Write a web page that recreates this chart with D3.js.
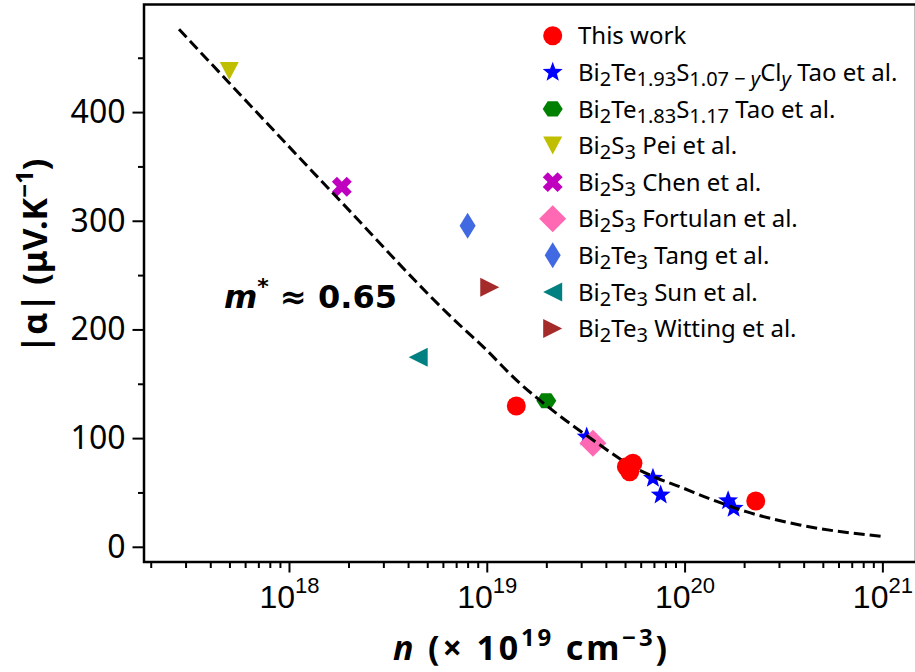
<!DOCTYPE html>
<html>
<head>
<meta charset="utf-8">
<script src="https://cdn.jsdelivr.net/npm/d3@7"></script>
<style>
  body { margin: 0; background: #fff; }
  svg { font-family: "Noto Sans", sans-serif; }
</style>
</head>
<body>
<div id="chart"></div>
<script>
// ---------------- DATA ----------------
// carrier concentration n (cm^-3) and |alpha| (uV/K)
var thisWorkN = [1.41e19, 5.08e19, 5.28e19, 5.48e19, 2.29e20];
var thisWorkAlpha = [129.6, 73.7, 69.1, 76.8, 42.1];

var taoClN = [3.2e19, 6.92e19, 7.57e19, 1.66e20, 1.77e20];
var taoClAlpha = [101, 63.0, 47.7, 42.4, 35.4];

var taoN = [2.0e19];      var taoAlpha = [134.4];
var peiN = [4.99e17];     var peiAlpha = [437.8];
var chenN = [1.85e18];    var chenAlpha = [331.3];
var fortulanN = [3.44e19]; var fortulanAlpha = [95.2];
var tangN = [8.0e18];     var tangAlpha = [295.5];
var sunN = [4.5e18];      var sunAlpha = [174.4];
var wittingN = [1.035e19]; var wittingAlpha = [238.8];

// Pisarenko curve for m* ~ 0.65
var curveN = [2.78e17, 4.92e17, 1.67e18, 7.59e18, 9.20e18, 1.47e19, 2.25e19, 3.44e19,
              5.48e19, 7.19e19, 9.44e19, 1.39e20, 2.05e20, 3.82e20, 1.03e21];
var curveAlpha = [476.2, 428.0, 325.3, 201.1, 187.2, 150.4, 122.8, 98.3,
                  73.7, 63.5, 55.3, 43.1, 32.3, 20.1, 9.3];

var xMajorTicks = [1e18, 1e19, 1e20, 1e21];
var xTickExponents = ["18", "19", "20", "21"];
var yMajorTicks = [0, 100, 200, 300, 400];
var yMinorTicks = [50, 150, 250, 350, 450];

// legend labels: [text, "sub"|"isub"|null]
var legendLabels = [
  [["This work", null]],
  [["Bi", null], ["2", "sub"], ["Te", null], ["1.93", "sub"], ["S", null], ["1.07 \u2212 ", "sub"], ["y", "isub"], ["Cl", null], ["y", "isub"], [" Tao et al.", null]],
  [["Bi", null], ["2", "sub"], ["Te", null], ["1.83", "sub"], ["S", null], ["1.17", "sub"], [" Tao et al.", null]],
  [["Bi", null], ["2", "sub"], ["S", null], ["3", "sub"], [" Pei et al.", null]],
  [["Bi", null], ["2", "sub"], ["S", null], ["3", "sub"], [" Chen et al.", null]],
  [["Bi", null], ["2", "sub"], ["S", null], ["3", "sub"], [" Fortulan et al.", null]],
  [["Bi", null], ["2", "sub"], ["Te", null], ["3", "sub"], [" Tang et al.", null]],
  [["Bi", null], ["2", "sub"], ["Te", null], ["3", "sub"], [" Sun et al.", null]],
  [["Bi", null], ["2", "sub"], ["Te", null], ["3", "sub"], [" Witting et al.", null]]
];

// ---------------- CANVAS ----------------
var svgWidth = 915, svgHeight = 672;
var plot = {left: 144, right: 916, top: 4.5, bottom: 562};

var svg = d3.select("#chart").append("svg")
  .attr("width", svgWidth)
  .attr("height", svgHeight);

// scales
var x = d3.scaleLog()
  .domain([Math.pow(10, 17.267), Math.pow(10, 21.17)])
  .range([plot.left, plot.right]);

var y = d3.scaleLinear()
  .domain([-14, 499])
  .range([plot.bottom, plot.top]);

// ---------------- AXES ----------------
var xMinor = [];
for (var e = 17; e <= 21; e++) {
  for (var m = 2; m <= 9; m++) {
    var v = m * Math.pow(10, e);
    if (v > x.domain()[0] && v < x.domain()[1]) xMinor.push(v);
  }
}

var xAxisMinor = svg.append("g")
  .attr("transform", `translate(0, ${plot.bottom})`)
  .call(d3.axisBottom(x).tickValues(xMinor).tickSize(6).tickFormat(""));

var xAxis = svg.append("g")
  .attr("transform", `translate(0, ${plot.bottom})`)
  .call(d3.axisBottom(x).tickValues(xMajorTicks).tickSize(10.5).tickPadding(10).tickFormat(""));

// tick labels 10^k
xAxis.selectAll(".tick text").each(function(d, i) {
  var t = d3.select(this)
    .attr("fill", "#000")
    .attr("font-size", 32)
    .attr("dy", null)
    .attr("y", 46);
  t.append("tspan").text("10");
  t.append("tspan").attr("font-size", 22).attr("dy", -15).text(xTickExponents[i]);
});

var yAxisMinor = svg.append("g")
  .attr("transform", `translate(${plot.left}, 0)`)
  .call(d3.axisLeft(y).tickValues(yMinorTicks).tickSize(6).tickFormat(""));

var yAxis = svg.append("g")
  .attr("transform", `translate(${plot.left}, 0)`)
  .call(d3.axisLeft(y).tickValues(yMajorTicks).tickSize(11.5).tickPadding(7));

yAxis.selectAll(".tick text")
  .attr("fill", "#000")
  .attr("font-size", 32)
  .attr("font-family", "Noto Sans");

[xAxis, xAxisMinor, yAxis, yAxisMinor].forEach(function(g) {
  g.select(".domain").remove();
  g.selectAll(".tick line").attr("stroke", "#000").attr("stroke-width", 2);
});

// frame
svg.append("rect")
  .attr("x", plot.left)
  .attr("y", plot.top)
  .attr("width", plot.right - plot.left)
  .attr("height", plot.bottom - plot.top)
  .attr("fill", "none")
  .attr("stroke", "#000")
  .attr("stroke-width", 2.5);

// ---------------- LABELS ----------------
var yLabel = svg.append("text")
  .attr("transform", "translate(47, 256) rotate(-90)")
  .attr("text-anchor", "middle")
  .attr("font-size", 34)
  .attr("font-weight", "bold");
yLabel.append("tspan").text("|\u03b1| (\u03bcV.K");
yLabel.append("tspan").attr("font-size", 24).attr("dy", -14).text("\u22121");
yLabel.append("tspan").attr("dy", 14).text(")");

var xLabel = svg.append("text")
  .attr("x", 393)
  .attr("y", 660)
  .attr("textLength", 274)
  .attr("lengthAdjust", "spacing")
  .attr("font-size", 34)
  .attr("font-weight", "bold");
xLabel.append("tspan").attr("font-style", "italic").text("n");
xLabel.append("tspan").text(" (\u00d7 10");
xLabel.append("tspan").attr("font-size", 24).attr("dy", -14).text("19");
xLabel.append("tspan").attr("dy", 14).text(" cm");
xLabel.append("tspan").attr("font-size", 24).attr("dy", -14).text("\u22123");
xLabel.append("tspan").attr("dy", 14).text(")");

var note = svg.append("text")
  .attr("x", 224)
  .attr("y", 308)
  .attr("font-family", "DejaVu Sans")
  .attr("font-size", 32)
  .attr("font-weight", "bold");
note.append("tspan").attr("font-style", "italic").text("m");
note.append("tspan").attr("font-size", 22).attr("dy", -14).text("*");
note.append("tspan").attr("dy", 14).text(" \u2248 0.65");

// ---------------- MARKER SHAPES ----------------
function polyPath(pts) {
  return "M" + pts.map(function(p) { return p[0].toFixed(2) + "," + p[1].toFixed(2); }).join("L") + "Z";
}
function circlePath(r) {
  return `M${-r},0A${r},${r} 0 1,0 ${r},0A${r},${r} 0 1,0 ${-r},0Z`;
}
function starPath(r) {
  var pts = [], ri = r * 0.42;
  for (var k = 0; k < 10; k++) {
    var a = -Math.PI / 2 + k * Math.PI / 5, rr = k % 2 ? ri : r;
    pts.push([rr * Math.cos(a), rr * Math.sin(a)]);
  }
  return polyPath(pts);
}
function hexPath(r) {
  var pts = [];
  for (var k = 0; k < 6; k++) {
    var a = k * Math.PI / 3;
    pts.push([r * Math.cos(a), r * 0.87 * Math.sin(a)]);
  }
  return polyPath(pts);
}
function triDown(w, h) { return polyPath([[-w / 2, -h / 2], [w / 2, -h / 2], [0, h / 2]]); }
function triLeft(w, h) { return polyPath([[-w / 2, 0], [w / 2, -h / 2], [w / 2, h / 2]]); }
function triRight(w, h) { return polyPath([[w / 2, 0], [-w / 2, -h / 2], [-w / 2, h / 2]]); }
function diamond(w, h) { return polyPath([[0, -h / 2], [w / 2, 0], [0, h / 2], [-w / 2, 0]]); }
function xPath(s) {
  // filled X (plus rotated 45 degrees)
  var a = s / 2, b = s * 0.17;
  var plus = [[-b, -a], [b, -a], [b, -b], [a, -b], [a, b], [b, b], [b, a], [-b, a], [-b, b], [-a, b], [-a, -b], [-b, -b]];
  var c = Math.SQRT1_2;
  return polyPath(plus.map(function(p) { return [(p[0] - p[1]) * c, (p[0] + p[1]) * c]; }));
}

var series = [
  {n: taoClN, a: taoClAlpha, color: "#0000ff", path: starPath(10.5)},
  {n: taoN, a: taoAlpha, color: "#008000", path: hexPath(10)},
  {n: peiN, a: peiAlpha, color: "#bfbf00", path: triDown(19, 18)},
  {n: chenN, a: chenAlpha, color: "#bf00bf", path: xPath(21)},
  {n: fortulanN, a: fortulanAlpha, color: "#ff69b4", path: diamond(27, 27)},
  {n: tangN, a: tangAlpha, color: "#4169e1", path: diamond(16, 26)},
  {n: sunN, a: sunAlpha, color: "#008080", path: triLeft(19, 19)},
  {n: wittingN, a: wittingAlpha, color: "#a52a2a", path: triRight(19, 19)}
];
var redSeries = {n: thisWorkN, a: thisWorkAlpha, color: "#ff0000", path: circlePath(9.5)};

function drawSeries(s) {
  svg.append("g").selectAll("path")
    .data(s.n.map(function(v, i) { return [v, s.a[i]]; }))
    .enter()
    .append("path")
      .attr("transform", function(d) { return `translate(${x(d[0])}, ${y(d[1])})`; })
      .attr("d", s.path)
      .attr("fill", s.color);
}

// literature points
series.forEach(drawSeries);

// model curve
var line = d3.line()
  .x(function(d) { return x(d[0]); })
  .y(function(d) { return y(d[1]); })
  .curve(d3.curveMonotoneX);

svg.append("path")
  .datum(curveN.map(function(v, i) { return [v, curveAlpha[i]]; }))
  .attr("d", line)
  .attr("fill", "none")
  .attr("stroke", "#000")
  .attr("stroke-width", 3)
  .attr("stroke-dasharray", "11,5");

// this work on top
drawSeries(redSeries);

// ---------------- LEGEND ----------------
var legendSeries = [redSeries].concat(series);
var legend = svg.append("g");
legendSeries.forEach(function(s, i) {
  var cy = 35.7 + i * 36.6;
  legend.append("path")
    .attr("transform", `translate(552.7, ${cy})`)
    .attr("d", s.path)
    .attr("fill", s.color);
  var t = legend.append("text")
    .attr("x", 578)
    .attr("y", cy + 8.6)
    .attr("font-size", 24);
  legendLabels[i].forEach(function(seg) {
    var ts = t.append("tspan").text(seg[0]);
    if (seg[1]) {
      ts.attr("font-size", 20).attr("baseline-shift", "-25%");
      if (seg[1] === "isub") ts.attr("font-style", "italic");
    }
  });
});
</script>
</body>
</html>
